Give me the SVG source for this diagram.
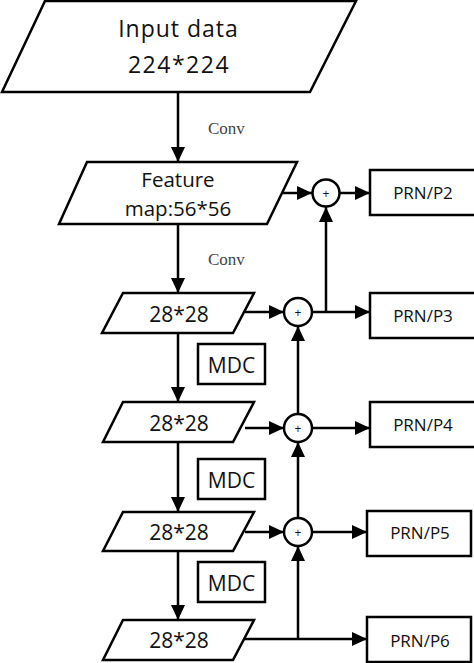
<svg xmlns="http://www.w3.org/2000/svg" width="474" height="663" viewBox="0 0 474 663">
<defs>
<marker id="ah" markerUnits="userSpaceOnUse" markerWidth="16" markerHeight="16" refX="15" refY="7" orient="auto"><path d="M0,0 L15,7 L0,14 z" fill="#000"/></marker>
<style>
.s{fill:#fff;stroke:#000;stroke-width:2.5;stroke-linejoin:miter}
.t{font-family:"Open Sans","Liberation Sans",sans-serif;fill:#111;text-anchor:middle}
.c{font-family:"Liberation Serif","DejaVu Serif",serif;fill:#444;font-size:17px}
.l{fill:none;stroke:#000;stroke-width:2.5}
</style>
</defs>
<rect width="474" height="663" fill="#fff"/>
<g id="connectors">
<line class="l" x1="178" y1="92" x2="178" y2="162" marker-end="url(#ah)"/>
<line class="l" x1="178" y1="224" x2="178" y2="293" marker-end="url(#ah)"/>
<line class="l" x1="178" y1="333" x2="178" y2="402" marker-end="url(#ah)"/>
<line class="l" x1="178" y1="442" x2="178" y2="512" marker-end="url(#ah)"/>
<line class="l" x1="178" y1="551" x2="178" y2="620" marker-end="url(#ah)"/>
<line class="l" x1="282" y1="193" x2="312" y2="193" marker-end="url(#ah)"/>
<line class="l" x1="339" y1="193" x2="370" y2="193" marker-end="url(#ah)"/>
<line class="l" x1="326" y1="312" x2="326" y2="207" marker-end="url(#ah)"/>
<line class="l" x1="245" y1="312" x2="284" y2="312" marker-end="url(#ah)"/>
<line class="l" x1="312" y1="312" x2="370" y2="312" marker-end="url(#ah)"/>
<line class="l" x1="245" y1="428" x2="284" y2="428" marker-end="url(#ah)"/>
<line class="l" x1="312" y1="428" x2="370" y2="428" marker-end="url(#ah)"/>
<line class="l" x1="245" y1="532" x2="284" y2="532" marker-end="url(#ah)"/>
<line class="l" x1="312" y1="532" x2="367" y2="532" marker-end="url(#ah)"/>
<line class="l" x1="243" y1="639" x2="367" y2="639" marker-end="url(#ah)"/>
<line class="l" x1="298" y1="639" x2="298" y2="546" marker-end="url(#ah)"/>
<line class="l" x1="298" y1="518" x2="298" y2="442" marker-end="url(#ah)"/>
<line class="l" x1="298" y1="414" x2="298" y2="326" marker-end="url(#ah)"/>
<text class="c" x="208" y="134">Conv</text>
<text class="c" x="208" y="265">Conv</text>
</g>
<g id="input">
<polygon class="s" points="45,1 356,1 310,92 2,92"/>
<text class="t" x="178.5" y="37" font-size="23" letter-spacing="1">Input data</text>
<text class="t" x="179" y="73" font-size="23" letter-spacing="1.5">224*224</text>
</g>
<g id="feature">
<polygon class="s" points="87,162 297,162 267,224 59,224"/>
<text class="t" x="178" y="187" font-size="20.5">Feature</text>
<text class="t" x="178" y="216" font-size="20.5">map:56*56</text>
</g>
<g id="f1">
<polygon class="s" points="123,293 254,293 233,333 102,333"/>
<text class="t" x="179" y="322" font-size="21">28*28</text>
</g>
<g id="f2">
<polygon class="s" points="123,402 254,402 233,442 103,442"/>
<text class="t" x="179" y="431" font-size="21">28*28</text>
</g>
<g id="f3">
<polygon class="s" points="123,512 254,512 233,551 103,551"/>
<text class="t" x="179" y="540" font-size="21">28*28</text>
</g>
<g id="f4">
<polygon class="s" points="123,620 254,620 233,660 103,660"/>
<text class="t" x="179" y="648" font-size="21">28*28</text>
</g>
<g id="mdc1"><rect class="s" x="198" y="344" width="67" height="40"/><text class="t" x="231.5" y="373" font-size="21">MDC</text></g>
<g id="mdc2"><rect class="s" x="198" y="459" width="67" height="40"/><text class="t" x="231.5" y="488" font-size="21">MDC</text></g>
<g id="mdc3"><rect class="s" x="198" y="562" width="67" height="40"/><text class="t" x="231.5" y="591" font-size="21">MDC</text></g>
<g id="sum2"><circle class="s" cx="326" cy="193" r="13.5"/><text class="t" x="326" y="197.5" font-size="12">+</text></g>
<g id="sum3"><circle class="s" cx="298" cy="312" r="14"/><text class="t" x="298" y="316.5" font-size="12">+</text></g>
<g id="sum4"><circle class="s" cx="298" cy="428" r="14"/><text class="t" x="298" y="432.5" font-size="12">+</text></g>
<g id="sum5"><circle class="s" cx="298" cy="532" r="14"/><text class="t" x="298" y="536.5" font-size="12">+</text></g>
<g id="p2"><rect class="s" x="370" y="170" width="108" height="45"/><text class="t" x="423" y="199" font-size="17">PRN/P2</text></g>
<g id="p3"><rect class="s" x="370" y="293" width="108" height="45"/><text class="t" x="423" y="322" font-size="17">PRN/P3</text></g>
<g id="p4"><rect class="s" x="370" y="402" width="108" height="45"/><text class="t" x="423" y="431" font-size="17">PRN/P4</text></g>
<g id="p5"><rect class="s" x="367" y="511" width="104" height="45"/><text class="t" x="420" y="539" font-size="17">PRN/P5</text></g>
<g id="p6"><rect class="s" x="367" y="617" width="104" height="45"/><text class="t" x="420" y="647" font-size="17">PRN/P6</text></g>
</svg>
